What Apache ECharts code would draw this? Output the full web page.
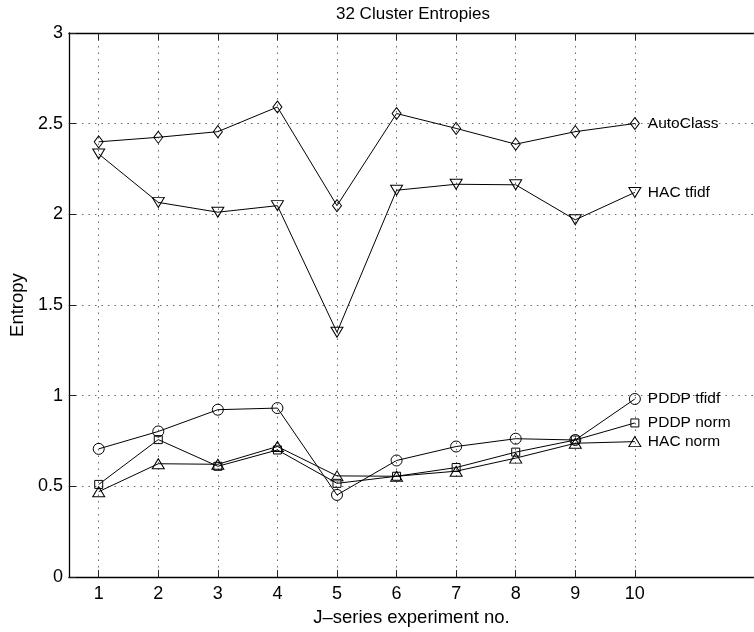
<!DOCTYPE html>
<html>
<head>
<meta charset="utf-8">
<script src="https://cdn.jsdelivr.net/npm/echarts@6/dist/echarts.min.js"></script>
<style>
  html, body { margin: 0; padding: 0; background: #fff; }
  #chart { width: 754px; height: 632px; }
</style>
</head>
<body>
<div id="chart"></div>
<script>
(function() {
  var font = "'Liberation Sans', Arial, sans-serif";

  // experiment numbers and tick values
  var experiments = [1, 2, 3, 4, 5, 6, 7, 8, 9, 10];
  var yTicks = [0, 0.5, 1, 1.5, 2, 2.5, 3];

  // entropies
  var autoClass = [2.40, 2.425, 2.456, 2.592, 2.048, 2.556, 2.474, 2.387, 2.456, 2.501];
  var hacTfidf = [2.333, 2.066, 2.012, 2.048, 1.350, 2.133, 2.166, 2.163, 1.970, 2.121];
  var pddpTfidf = [0.707, 0.803, 0.923, 0.932, 0.453, 0.643, 0.720, 0.763, 0.756, 0.982];
  var pddpNorm = [0.511, 0.758, 0.611, 0.701, 0.517, 0.556, 0.604, 0.689, 0.756, 0.850];
  var hacNorm = [0.471, 0.625, 0.622, 0.720, 0.558, 0.556, 0.584, 0.656, 0.738, 0.747];

  function pairs(vals) {
    return experiments.map(function(x, i) { return [x, vals[i]]; });
  }

  function makeSeries(name, vals, symbol, size, rotate) {
    return {
      name: name,
      type: 'line',
      data: pairs(vals),
      symbol: symbol,
      symbolSize: size,
      symbolRotate: rotate || 0,
      showAllSymbol: true,
      lineStyle: { color: '#000', width: 1 },
      itemStyle: { color: 'transparent', borderColor: '#000', borderWidth: 1 },
      endLabel: { show: true, formatter: '{a}', color: '#000', fontSize: 15.5, fontFamily: font, distance: 13 },
      emphasis: { disabled: true },
      z: 3
    };
  }

  var gridLine = { show: true, lineStyle: { color: '#666', width: 1, type: [1.5, 5] } };

  var chart = echarts.init(document.getElementById('chart'), null, { renderer: 'canvas' });
  chart.setOption({
    animation: false,
    backgroundColor: '#fff',
    title: {
      text: '32 Cluster Entropies',
      left: 413,
      top: 6,
      padding: 0,
      textAlign: 'center',
      textStyle: { color: '#000', fontSize: 17, fontWeight: 'normal', fontFamily: font }
    },
    grid: { left: 60, top: 33, width: 706, height: 552 },
    xAxis: [{
      type: 'value',
      min: 0.5,
      max: 12,
      name: 'J\u2013series experiment no.',
      nameLocation: 'middle',
      nameGap: 26,
      nameTextStyle: { color: '#000', fontSize: 18.5, fontFamily: font },
      axisLine: { show: true, onZero: false, lineStyle: { color: '#000', width: 1.3 } },
      axisTick: { show: true, inside: true, length: 7, customValues: experiments, lineStyle: { color: '#222' } },
      axisLabel: { customValues: experiments, color: '#000', fontSize: 18, fontFamily: font, margin: 8 },
      splitLine: gridLine
    }, {
      type: 'value',
      position: 'top',
      min: 0.5,
      max: 12,
      axisLine: { show: true, onZero: false, lineStyle: { color: '#000', width: 1.3 } },
      axisTick: { show: true, inside: true, length: 7, customValues: experiments, lineStyle: { color: '#222' } },
      axisLabel: { show: false },
      splitLine: { show: false }
    }],
    yAxis: {
      type: 'value',
      min: 0,
      max: 3,
      interval: 0.5,
      name: 'Entropy',
      nameLocation: 'middle',
      nameGap: 35,
      nameTextStyle: { color: '#000', fontSize: 18.5, fontFamily: font },
      axisLine: { show: true, onZero: false, lineStyle: { color: '#000', width: 1.3 } },
      axisTick: { show: true, inside: true, length: 7, customValues: yTicks, lineStyle: { color: '#222' } },
      axisLabel: { customValues: yTicks, color: '#000', fontSize: 18, fontFamily: font, margin: 6 },
      splitLine: gridLine
    },
    series: [
      makeSeries('AutoClass', autoClass, 'diamond', [9, 12]),
      makeSeries('HAC tfidf', hacTfidf, 'triangle', [12, 10], 180),
      makeSeries('PDDP tfidf', pddpTfidf, 'circle', 11),
      makeSeries('PDDP norm', pddpNorm, 'rect', 8),
      makeSeries('HAC norm', hacNorm, 'triangle', [12, 10])
    ]
  });
  window.addEventListener('resize', function() { chart.resize(); });
})();
</script>
</body>
</html>
